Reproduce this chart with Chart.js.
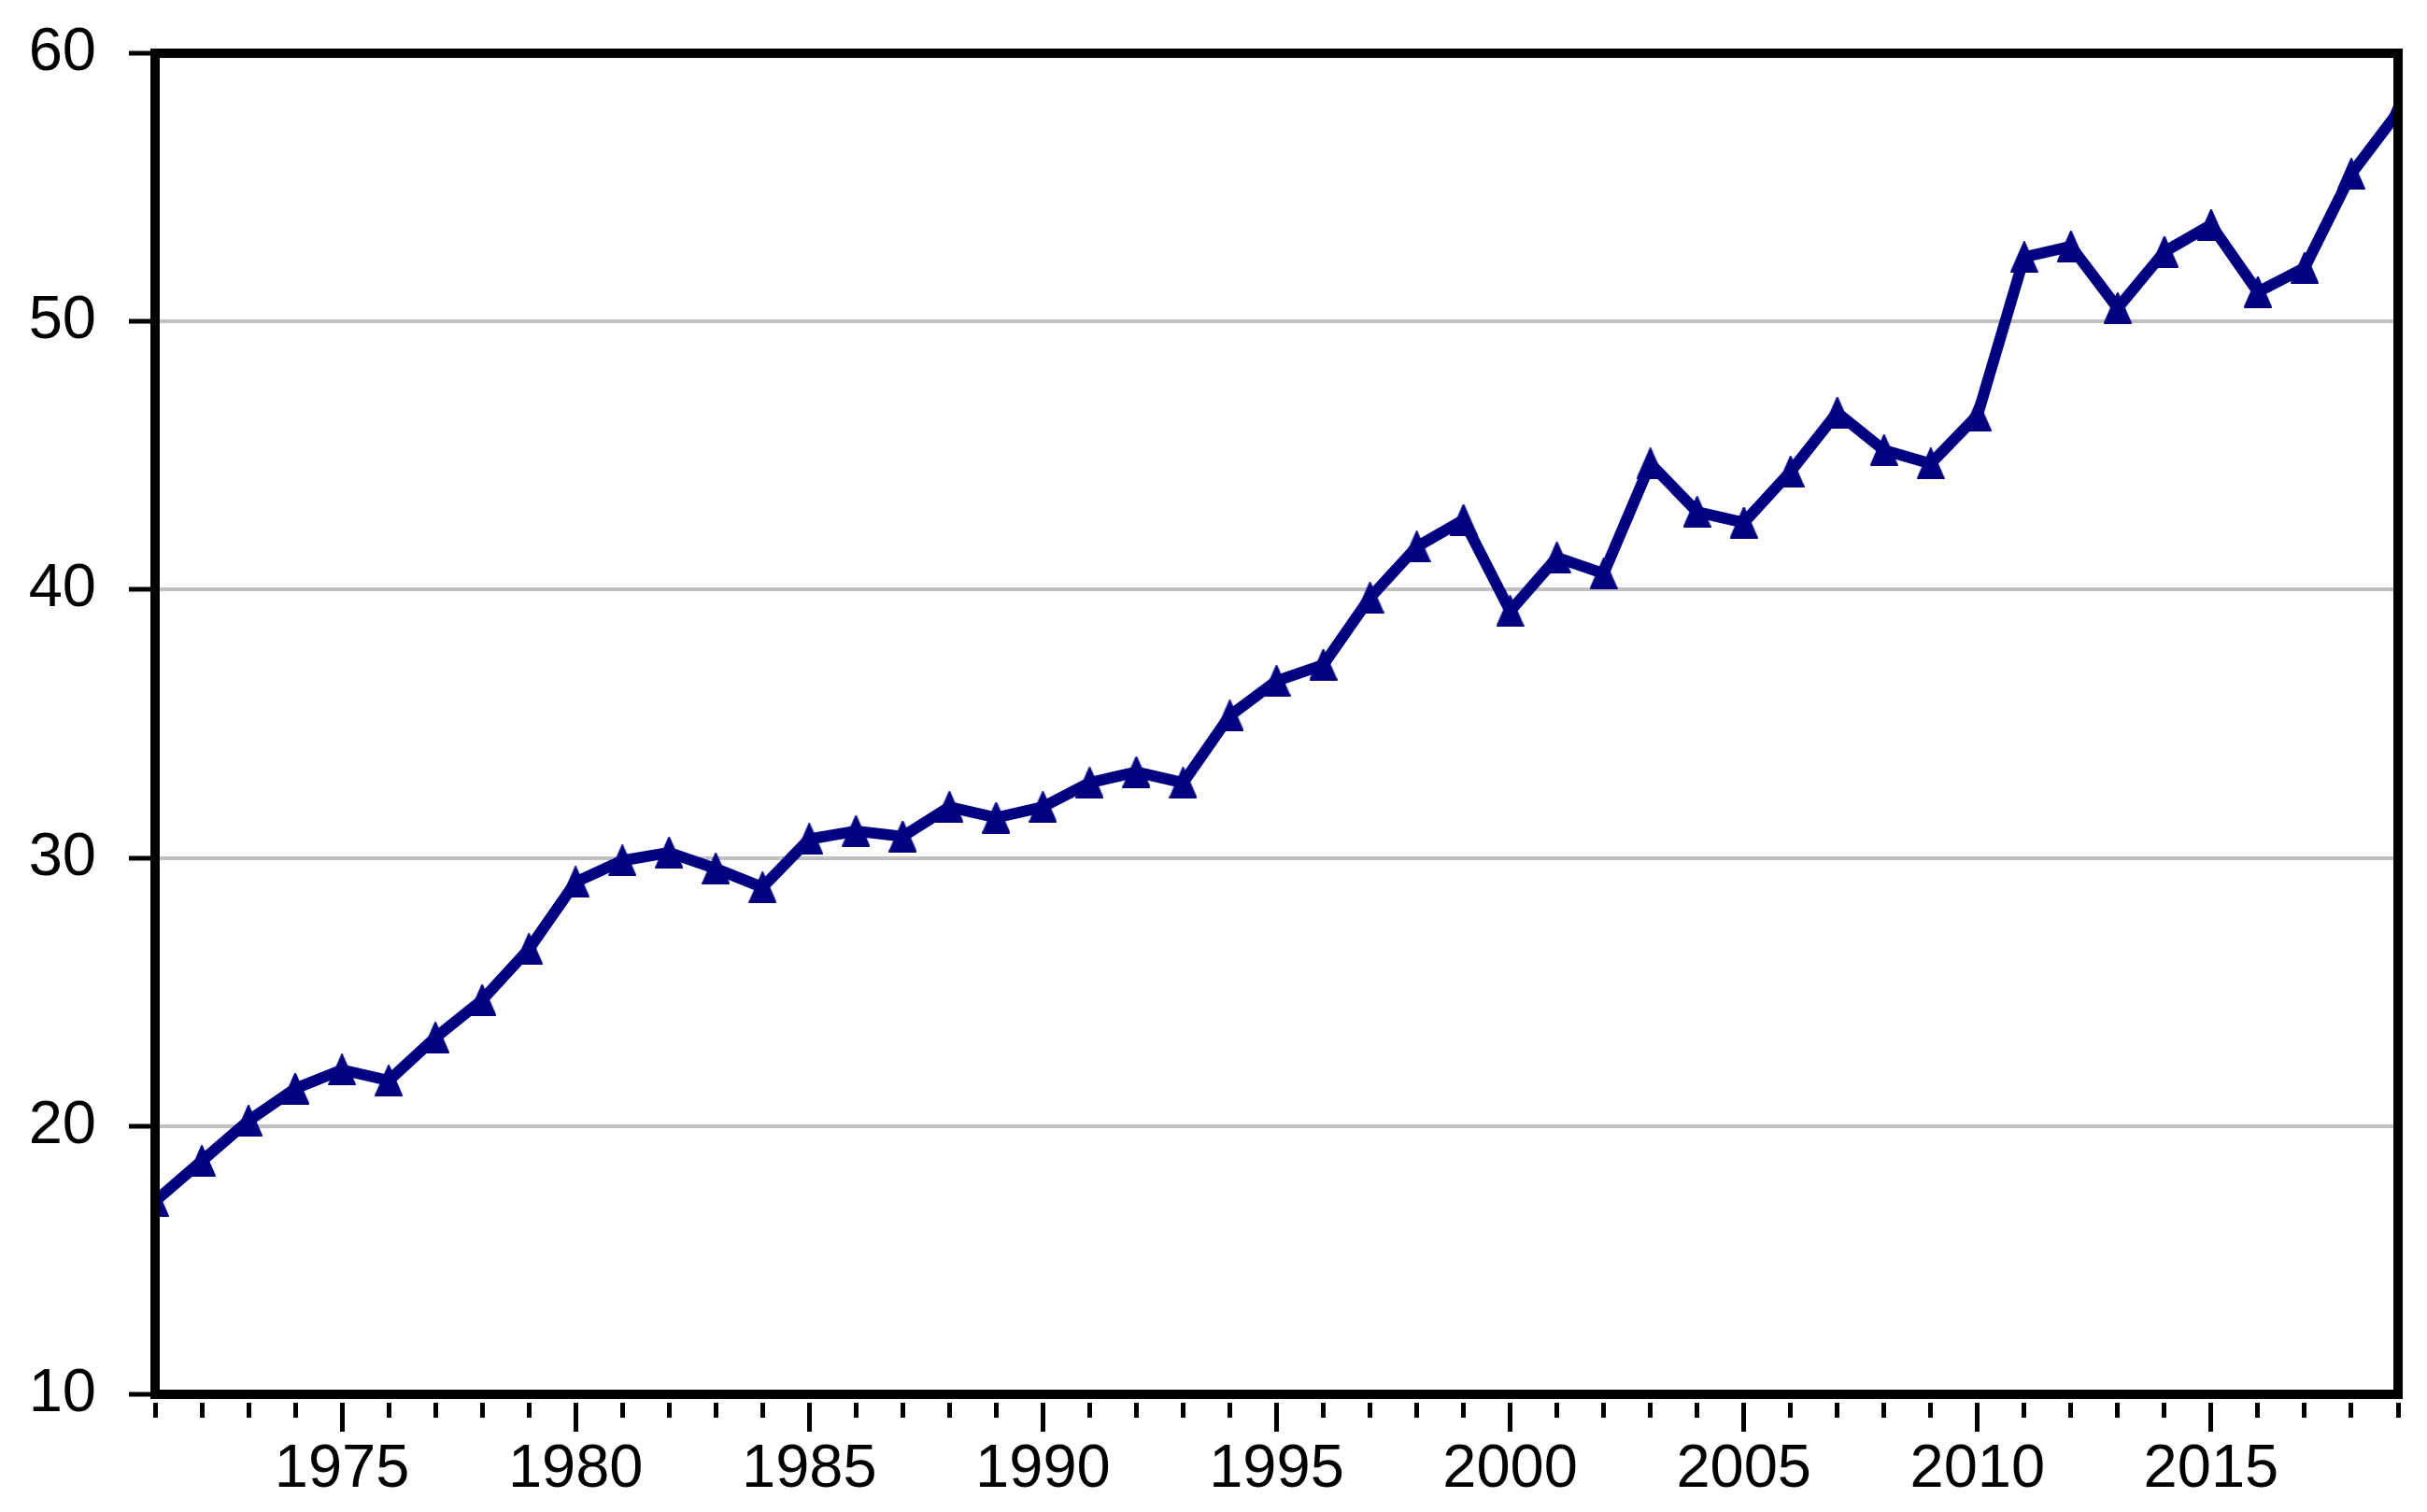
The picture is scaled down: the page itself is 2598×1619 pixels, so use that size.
<!DOCTYPE html>
<html>
<head>
<meta charset="utf-8">
<title>Annual series 1971-2019</title>
<script src="https://cdn.jsdelivr.net/npm/chart.js@4.4.1/dist/chart.umd.min.js"></script>
<style>
    html, body { margin: 0; padding: 0; background: #fff; overflow: hidden; }
    canvas { display: block; }
</style>
</head>
<body>
<canvas id="chart" width="2598" height="1619"></canvas>
<script>
// Data
const years = [
    1971, 1972, 1973, 1974, 1975, 1976, 1977, 1978, 1979, 1980,
    1981, 1982, 1983, 1984, 1985, 1986, 1987, 1988, 1989, 1990,
    1991, 1992, 1993, 1994, 1995, 1996, 1997, 1998, 1999, 2000,
    2001, 2002, 2003, 2004, 2005, 2006, 2007, 2008, 2009, 2010,
    2011, 2012, 2013, 2014, 2015, 2016, 2017, 2018, 2019
];
const values = [
    17.2, 18.7, 20.2, 21.4, 22.1, 21.7, 23.3, 24.7, 26.6, 29.1,
    29.9, 30.2, 29.6, 28.9, 30.7, 31.0, 30.8, 31.9, 31.5, 31.9,
    32.8, 33.2, 32.8, 35.3, 36.6, 37.2, 39.7, 41.6, 42.6, 39.2,
    41.2, 40.6, 44.7, 42.9, 42.5, 44.4, 46.6, 45.2, 44.7, 46.5,
    52.4, 52.8, 50.5, 52.6, 53.6, 51.1, 52.0, 55.5, 57.8
];
const yMin = 10, yMax = 60, yStep = 10;
const labelEvery = 5;   // x labels / long ticks every 5 years

const FONT = '"Liberation Sans", Arial, sans-serif';
const NAVY = '#000080';

// tall triangle marker (centred on the point by Chart.js)
function makeMarker() {
    var c = document.createElement('canvas');
    c.width = 30;
    c.height = 34;
    var g = c.getContext('2d');
    g.fillStyle = NAVY;
    g.strokeStyle = NAVY;
    g.lineWidth = 2;
    g.lineJoin = 'round';
    g.beginPath();
    g.moveTo(15, 1);
    g.lineTo(29, 33);
    g.lineTo(1, 33);
    g.closePath();
    g.fill();
    g.stroke();
    return c;
}

// black box round the plot area
const framePlugin = {
    id: 'frame',
    afterDraw(chart) {
        const a = chart.chartArea, ctx = chart.ctx;
        ctx.save();
        ctx.lineWidth = 10;
        ctx.strokeStyle = '#000';
        ctx.lineJoin = 'miter';
        ctx.strokeRect(a.left, a.top, a.right - a.left, a.bottom - a.top);
        ctx.restore();
    }
};

new Chart(document.getElementById('chart'), {
    type: 'line',
    data: {
        datasets: [{
            data: years.map(function(y, i) { return { x: y, y: values[i] }; }),
            borderColor: NAVY,
            backgroundColor: NAVY,
            borderWidth: 12,
            borderJoinStyle: 'round',
            pointStyle: makeMarker(),
            pointRadius: 15,
            tension: 0
        }]
    },
    options: {
        responsive: false,
        devicePixelRatio: 1,
        animation: false,
        layout: { padding: { top: 57, right: 31, bottom: 0, left: 0 } },
        plugins: { legend: { display: false }, tooltip: { enabled: false } },
        scales: {
            x: {
                type: 'linear',
                min: years[0],
                max: years[years.length - 1],
                border: { display: false },
                grid: {
                    drawOnChartArea: false,
                    drawTicks: true,
                    tickLength: 40,
                    tickWidth: 5,
                    tickColor: '#000',
                    tickBorderDash: function(ctx) {
                        return ctx.tick && ctx.tick.value % labelEvery === 0 ? [0, 9, 31, 100] : [0, 9, 16, 100];
                    }
                },
                ticks: {
                    stepSize: 1,
                    autoSkip: false,
                    maxRotation: 0,
                    padding: 2,
                    color: '#000',
                    font: { family: FONT, size: 65 },
                    callback: function(v) { return v % labelEvery === 0 ? String(v) : ''; }
                },
                afterFit: function(scale) { scale.height = 126; scale.paddingLeft = 0; scale.paddingRight = 0; }
            },
            y: {
                min: yMin,
                max: yMax,
                border: { display: false },
                grid: {
                    color: function(ctx) {
                        return ctx.tick && (ctx.tick.value === yMin || ctx.tick.value === yMax) ? 'rgba(0,0,0,0)' : '#c0c0c0';
                    },
                    lineWidth: 4,
                    drawTicks: true,
                    tickLength: 38,
                    tickWidth: 5,
                    tickColor: '#000',
                    tickBorderDash: [0, 10, 28, 100]
                },
                ticks: {
                    stepSize: yStep,
                    padding: 25,
                    color: '#000',
                    font: { family: FONT, size: 65 }
                },
                afterFit: function(scale) { scale.width = 166; scale.paddingTop = 0; scale.paddingBottom = 0; }
            }
        }
    },
    plugins: [framePlugin]
});
</script>
</body>
</html>
